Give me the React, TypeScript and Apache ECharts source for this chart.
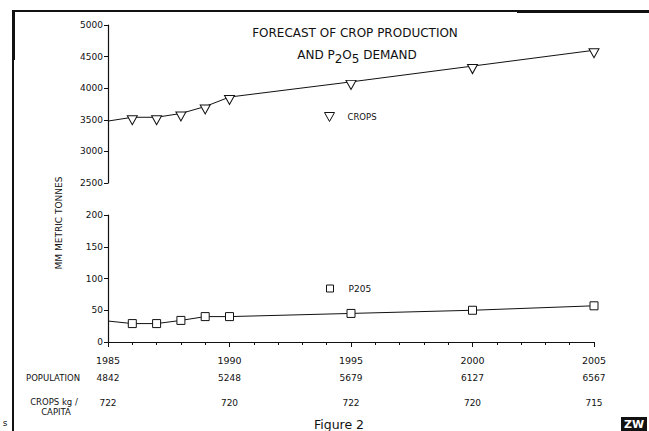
import React, { useEffect, useRef } from 'react';
import * as echarts from 'echarts';

const YEARS = [1985, 1986, 1987, 1988, 1989, 1990, 1995, 2000, 2005];
const CROPS = [3480, 3540, 3540, 3600, 3710, 3860, 4100, 4350, 4600];
const P2O5 = [33, 29, 29, 34, 40, 40, 45, 50, 57];
const TABLE_YEARS = [1985, 1990, 1995, 2000, 2005];
const POPULATION = [4842, 5248, 5679, 6127, 6567];
const CROPS_PER_CAPITA = [722, 720, 722, 720, 715];

const FONT = 'DejaVu Sans';
const INK = '#111';

function seriesData(values: number[]) {
  return YEARS.map((y, i) =>
    i === 0 ? { value: [y, values[i]], symbol: 'none' } : { value: [y, values[i]] }
  );
}

function tableFormatter(row: number[]) {
  return (v: number) => {
    const i = TABLE_YEARS.indexOf(Math.round(v));
    return i >= 0 ? String(row[i]) : '';
  };
}

const plain = (v: number) => String(v);

export default function App() {
  const ref = useRef<HTMLDivElement>(null);
  useEffect(() => {
    if (!ref.current) return;
    const chart = echarts.init(ref.current, null, { renderer: 'svg' });
    const labelStyle = { color: INK, fontFamily: FONT, fontSize: 9 };
    const yAxisCommon = {
      type: 'value',
      position: 'left',
      axisLine: { show: true, lineStyle: { color: INK, width: 1.2 } },
      axisTick: { show: true, length: 4, lineStyle: { color: INK, width: 1 } },
      splitLine: { show: false },
      axisLabel: { ...labelStyle, margin: 5, formatter: plain },
    };
    const xBase = { type: 'value', min: 1985, max: 2005, interval: 5, gridIndex: 1, position: 'bottom' };
    chart.setOption({
      animation: false,
      backgroundColor: '#fff',
      title: [
        {
          text: 'FORECAST OF CROP PRODUCTION',
          left: 350,
          top: 22,
          textAlign: 'center',
          textStyle: { fontFamily: FONT, fontSize: 12, fontWeight: 'normal', color: INK },
        },
        {
          text: '{a|AND P}{b|2}{a|O}{b|5}{a| DEMAND}',
          left: 352,
          top: 44,
          textAlign: 'center',
          textStyle: {
            fontFamily: FONT,
            fontSize: 12,
            fontWeight: 'normal',
            color: INK,
            rich: {
              a: { fontFamily: FONT, fontSize: 12, fontWeight: 'normal', color: INK, lineHeight: 13, verticalAlign: 'top' },
              b: { fontFamily: FONT, fontSize: 12, fontWeight: 'normal', color: INK, lineHeight: 13, padding: [4, 0, 0, 0], verticalAlign: 'top' },
            },
          },
        },
      ],
      legend: [
        {
          data: ['CROPS'],
          left: 319,
          top: 107,
          icon: 'path://M0,0L10,0L5,9Z',
          itemWidth: 10,
          itemHeight: 9,
          itemStyle: { color: '#fff', borderColor: INK, borderWidth: 1 },
          lineStyle: { width: 0 },
          textStyle: { color: INK, fontFamily: FONT, fontSize: 8.5, padding: [0, 0, 0, 8] },
        },
        {
          data: ['P205'],
          left: 321,
          top: 279,
          icon: 'rect',
          itemWidth: 7,
          itemHeight: 7,
          itemStyle: { color: '#fff', borderColor: INK, borderWidth: 1 },
          lineStyle: { width: 0 },
          textStyle: { color: INK, fontFamily: FONT, fontSize: 9, padding: [0, 0, 0, 10] },
        },
      ],
      grid: [
        { left: 108, top: 25, width: 486, height: 158 },
        { left: 108, top: 215, width: 486, height: 127 },
      ],
      xAxis: [
        { type: 'value', min: 1985, max: 2005, gridIndex: 0, show: false, position: 'bottom' },
        {
          ...xBase,
          axisLine: { show: true, lineStyle: { color: INK, width: 1.2 } },
          axisTick: { show: true, length: 5, lineStyle: { color: INK, width: 1 } },
          minorTick: { show: true, splitNumber: 5, length: 3, lineStyle: { color: INK, width: 1 } },
          splitLine: { show: false },
          axisLabel: { ...labelStyle, fontSize: 9.5, margin: 13, formatter: plain },
        },
        {
          ...xBase,
          offset: 18,
          axisLine: { show: false },
          axisTick: { show: false },
          splitLine: { show: false },
          axisLabel: { ...labelStyle, margin: 13, formatter: tableFormatter(POPULATION) },
        },
        {
          ...xBase,
          offset: 43,
          axisLine: { show: false },
          axisTick: { show: false },
          splitLine: { show: false },
          axisLabel: { ...labelStyle, margin: 13, formatter: tableFormatter(CROPS_PER_CAPITA) },
        },
      ],
      yAxis: [
        { ...yAxisCommon, gridIndex: 0, min: 2500, max: 5000, interval: 500 },
        { ...yAxisCommon, gridIndex: 1, min: 0, max: 200, interval: 50 },
      ],
      series: [
        {
          name: 'CROPS',
          type: 'line',
          xAxisIndex: 0,
          yAxisIndex: 0,
          data: seriesData(CROPS),
          symbol: 'path://M0,0L10,0L5,9Z',
          symbolSize: [10, 9],
          symbolOffset: [0, 3],
          showAllSymbol: true,
          lineStyle: { color: INK, width: 1 },
          itemStyle: { color: '#fff', borderColor: INK, borderWidth: 1 },
        },
        {
          name: 'P205',
          type: 'line',
          xAxisIndex: 1,
          yAxisIndex: 1,
          data: seriesData(P2O5),
          symbol: 'rect',
          symbolSize: 8,
          showAllSymbol: true,
          lineStyle: { color: INK, width: 1 },
          itemStyle: { color: '#fff', borderColor: INK, borderWidth: 1 },
        },
      ],
      graphic: [
        { type: 'line', shape: { x1: 12, y1: 11, x2: 649, y2: 11 }, style: { stroke: INK, lineWidth: 2 } },
        { type: 'line', shape: { x1: 517, y1: 11.5, x2: 649, y2: 11.5 }, style: { stroke: INK, lineWidth: 3 } },
        { type: 'line', shape: { x1: 13, y1: 10, x2: 13, y2: 431 }, style: { stroke: INK, lineWidth: 2 } },
        { type: 'line', shape: { x1: 13.5, y1: 10, x2: 13.5, y2: 60 }, style: { stroke: INK, lineWidth: 3 } },
        {
          type: 'text',
          x: 59,
          y: 223,
          rotation: Math.PI / 2,
          style: { text: 'MM METRIC TONNES', font: `9px "${FONT}"`, fill: INK, align: 'center', verticalAlign: 'middle' },
        },
        {
          type: 'text',
          x: 26,
          y: 378,
          style: { text: 'POPULATION', font: `8.5px "${FONT}"`, fill: INK, align: 'left', verticalAlign: 'middle' },
        },
        {
          type: 'text',
          x: 54,
          y: 402,
          style: { text: 'CROPS kg /', font: `8.5px "${FONT}"`, fill: INK, align: 'center', verticalAlign: 'middle' },
        },
        {
          type: 'text',
          x: 56,
          y: 412,
          style: { text: 'CAPITA', font: `8.5px "${FONT}"`, fill: INK, align: 'center', verticalAlign: 'middle' },
        },
        {
          type: 'text',
          x: 339,
          y: 424,
          style: { text: 'Figure 2', font: `12.5px "${FONT}"`, fill: INK, align: 'center', verticalAlign: 'middle' },
        },
        {
          type: 'text',
          x: 5,
          y: 423,
          style: { text: 's', font: `9px "${FONT}"`, fill: INK, align: 'center', verticalAlign: 'middle' },
        },
        { type: 'rect', shape: { x: 621, y: 417, width: 26, height: 14 }, style: { fill: INK } },
        {
          type: 'text',
          x: 634,
          y: 424.5,
          style: { text: 'ZW', font: `bold 11px "${FONT}"`, fill: '#fff', align: 'center', verticalAlign: 'middle' },
        },
      ],
    });
    return () => chart.dispose();
  }, []);
  return <div ref={ref} style={{ position: 'absolute', left: 0, top: 0, width: 649, height: 431 }} />;
}
